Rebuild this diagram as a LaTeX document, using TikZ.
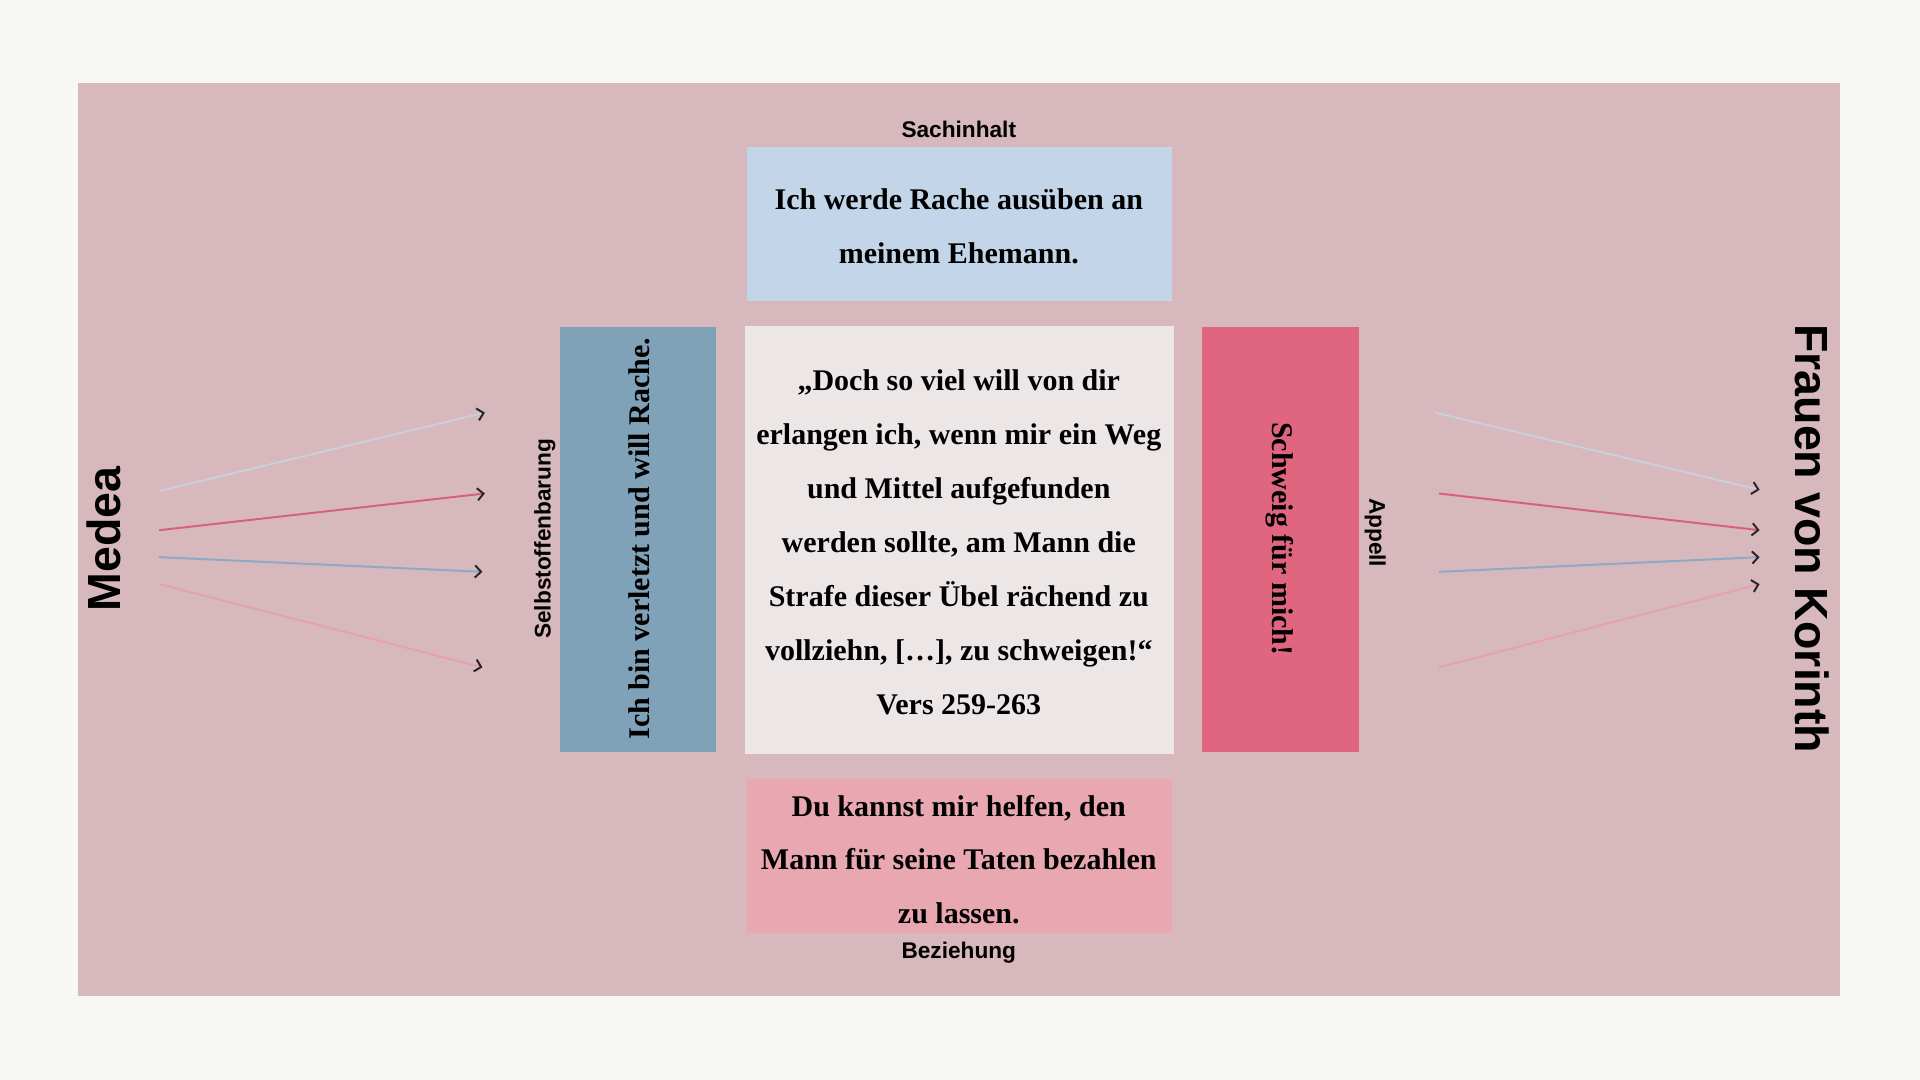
\documentclass[tikz,border=0pt]{standalone}
\usepackage{fontspec}
\setmainfont{Liberation Serif}
\setsansfont{Liberation Sans}
\usetikzlibrary{arrows.meta}
\definecolor{bgc}{HTML}{F7F7F3}
\definecolor{pinkbg}{HTML}{D6B8BD}
\definecolor{bluebox}{HTML}{C3D5E8}
\definecolor{centerbox}{HTML}{EDE6E6}
\definecolor{leftbox}{HTML}{7FA2B8}
\definecolor{redbox}{HTML}{E0667F}
\definecolor{botbox}{HTML}{E8A7B1}
\definecolor{aLight}{HTML}{C8D0DC}
\definecolor{aRed}{HTML}{D9607A}
\definecolor{aBlue}{HTML}{8FA8C6}
\definecolor{aPink}{HTML}{E8A0B0}
\tikzset{
  serifbody/.style={font=\bfseries\fontsize{24.5}{44}\selectfont, align=center},
  lbl/.style={font=\sffamily\bfseries\fontsize{18.5}{20}\selectfont},
  big/.style={font=\sffamily\bfseries\fontsize{38}{40}\selectfont},
  arr/.style={line width=1.6pt, -{Straight Barb[length=5pt,width=10pt,line width=1.6pt,color=black!85]}},
}
\begin{document}
\begin{tikzpicture}[x=1pt,y=-1pt]
\fill[bgc] (0,0) rectangle (1568,882);
\useasboundingbox (0,0) rectangle (1568,882);
\fill[pinkbg] (64,68) rectangle (1503,813);
\fill[bluebox] (610,120) rectangle (957,246);
\fill[centerbox] (608,266) rectangle (959,616);
\fill[leftbox] (457,267) rectangle (585,614);
\fill[redbox] (982,267) rectangle (1110,614);
\fill[botbox] (610,636) rectangle (957,762);
\node[lbl] (sach) at (783,106) {Sachinhalt};
\node[lbl] (bez) at (783,778) {Beziehung};
\node[lbl, rotate=90] (selbst) at (445,440) {Selbstoffenbarung};
\node[lbl, rotate=-90] (app) at (1123,435) {Appell};
\node[big, rotate=90] (medea) at (85,440) {Medea};
\node[big, rotate=-90] (frauen) at (1480,440) {Frauen von Korinth};
\node[serifbody] (t1) at (783,185) {Ich werde Rache ausüben an\\meinem Ehemann.};
\node[serifbody] (t2) at (783,443) {„Doch so viel will von dir\\erlangen ich, wenn mir ein Weg\\und Mittel aufgefunden\\werden sollte, am Mann die\\Strafe dieser Übel rächend zu\\vollziehn, [\dots], zu schweigen!“\\Vers 259-263};
\node[serifbody] (t3) at (783,702) {Du kannst mir helfen, den\\Mann für seine Taten bezahlen\\zu lassen.};
\node[serifbody, rotate=90] (t4) at (522,440) {Ich bin verletzt und will Rache.};
\node[serifbody, rotate=-90] (t5) at (1045,440) {Schweig für mich!};
\coordinate (l1a) at (130,401); \coordinate (l1b) at (396,337);
\coordinate (l2a) at (130,433); \coordinate (l2b) at (396,403);
\coordinate (l3a) at (130,455); \coordinate (l3b) at (394,467);
\coordinate (l4a) at (130,477); \coordinate (l4b) at (394,545);
\coordinate (r1a) at (1172,337); \coordinate (r1b) at (1437,400);
\coordinate (r2a) at (1175,403); \coordinate (r2b) at (1437,433);
\coordinate (r3a) at (1175,467); \coordinate (r3b) at (1437,455);
\coordinate (r4a) at (1175,545); \coordinate (r4b) at (1437,477);
\foreach \a/\b/\c in {l1a/l1b/aLight,l2a/l2b/aRed,l3a/l3b/aBlue,l4a/l4b/aPink,r1a/r1b/aLight,r2a/r2b/aRed,r3a/r3b/aBlue,r4a/r4b/aPink}{
  \draw[arr, draw=\c] (\a) -- (\b);
}
\end{tikzpicture}
\end{document}
